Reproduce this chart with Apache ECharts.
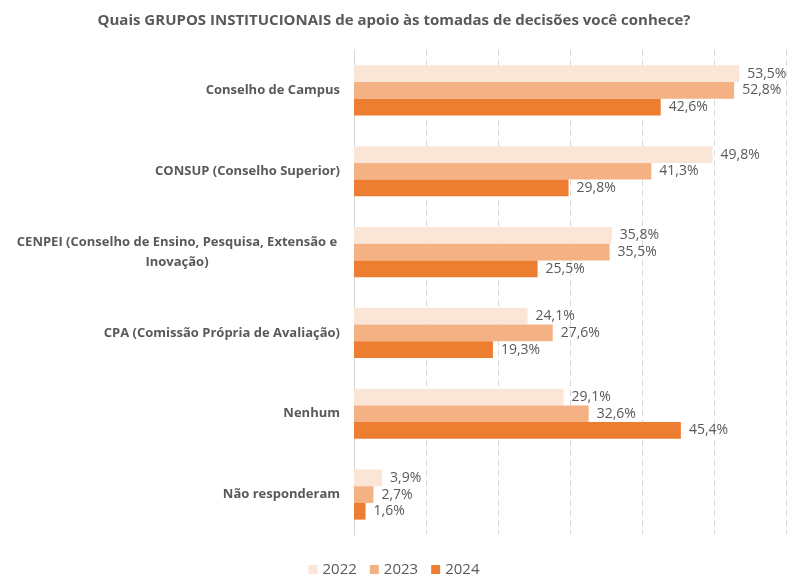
<!DOCTYPE html>
<html>
<head>
<meta charset="utf-8">
<script src="https://cdn.jsdelivr.net/npm/echarts@6/dist/echarts.min.js"></script>
<style>
  html, body { margin: 0; padding: 0; background: #fff; }
  #chart { width: 788px; height: 574px; }
</style>
</head>
<body>
<div id="chart"></div>
<script>
var categories = [
  'Conselho de Campus',
  'CONSUP (Conselho Superior)',
  'CENPEI (Conselho de Ensino, Pesquisa, Extensão e\nInovação)',
  'CPA (Comissão Própria de Avaliação)',
  'Nenhum',
  'Não responderam'
];
var years = ['2022', '2023', '2024'];
var values2022 = [53.5, 49.8, 35.8, 24.1, 29.1, 3.9];
var values2023 = [52.8, 41.3, 35.5, 27.6, 32.6, 2.7];
var values2024 = [42.6, 29.8, 25.5, 19.3, 45.4, 1.6];
var colors = ['#FBE5D6', '#F4B183', '#ED7D31'];

var chart = echarts.init(document.getElementById('chart'));
var textColor = '#595959';
var font = '"Open Sans", sans-serif';

function makeSeries(name, data, color) {
  return {
    name: name,
    type: 'bar',
    data: data,
    barGap: '0%',
    barCategoryGap: '38%',
    itemStyle: { color: color },
    label: {
      show: true,
      position: 'right',
      distance: 8,
      color: textColor,
      fontFamily: font,
      fontSize: 14,
      formatter: function(p) {
        return p.value.toFixed(1).replace('.', ',') + '%';
      }
    }
  };
}

var option = {
  animation: false,
  title: {
    text: 'Quais GRUPOS INSTITUCIONAIS de apoio às tomadas de decisões você conhece?',
    left: 'center',
    top: 8,
    textStyle: { color: textColor, fontFamily: font, fontSize: 15, fontWeight: 'bold' }
  },
  legend: {
    data: years,
    top: 557,
    left: 'center',
    itemWidth: 9,
    itemHeight: 9,
    itemGap: 13,
    icon: 'rect',
    textStyle: { color: textColor, fontFamily: font, fontSize: 15 }
  },
  grid: { left: 354, right: 2, top: 50, bottom: 39, containLabel: false },
  xAxis: {
    type: 'value',
    min: 0,
    max: 60,
    interval: 10,
    axisLabel: { show: false },
    axisLine: { show: false },
    axisTick: { show: false },
    splitLine: { show: true, lineStyle: { color: '#D9D9D9', type: [6, 4], width: 1 } }
  },
  yAxis: {
    type: 'category',
    inverse: true,
    data: categories,
    axisTick: { show: false },
    axisLine: { show: true, lineStyle: { color: '#D9D9D9' } },
    axisLabel: {
      margin: 14,
      color: textColor,
      fontFamily: font,
      fontSize: 13,
      fontWeight: 'bold',
      lineHeight: 20,
      formatter: function(v) {
        if (v.indexOf('\n') >= 0) return '{c|' + v + '}';
        return v;
      },
      rich: {
        c: { width: 326, align: 'center', color: textColor, fontFamily: font, fontSize: 13, fontWeight: 'bold', lineHeight: 20 }
      }
    }
  },
  series: [
    makeSeries(years[0], values2022, colors[0]),
    makeSeries(years[1], values2023, colors[1]),
    makeSeries(years[2], values2024, colors[2])
  ]
};

chart.setOption(option);
</script>
</body>
</html>
